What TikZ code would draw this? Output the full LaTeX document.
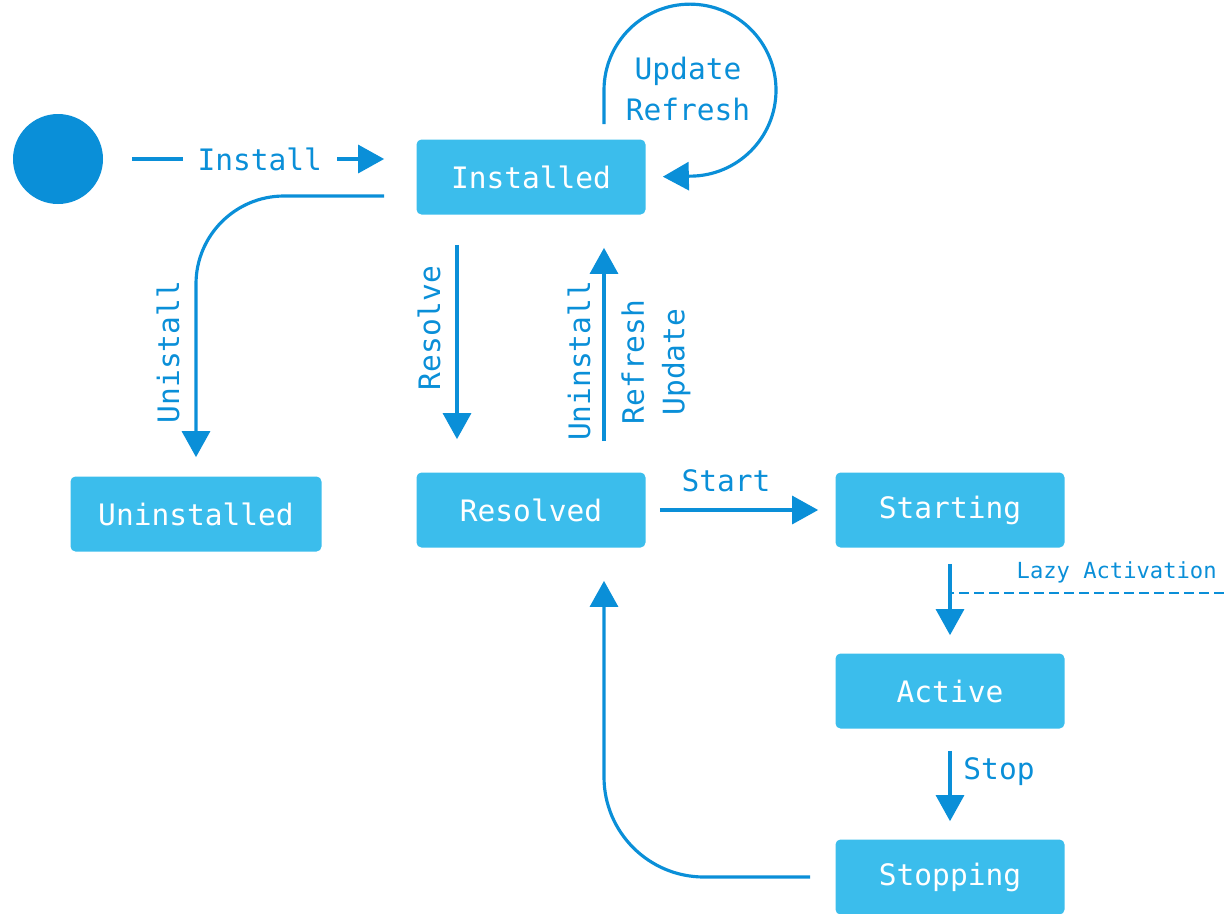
\documentclass[tikz,border=0pt]{standalone}
\usepackage{fontspec}
\setmonofont{DejaVu Sans Mono}
\usetikzlibrary{arrows.meta}

\definecolor{boxblue}{HTML}{3BBDEC}
\definecolor{lineblue}{HTML}{0A8FD8}

\tikzstyle{state} = [rectangle,rounded corners=0.1cm,fill=boxblue,text=white,minimum width=4.58cm,minimum height=1.5cm,font=\ttfamily\fontsize{16.8}{23}\selectfont]
\tikzstyle{lbl} = [text=lineblue,font=\ttfamily\fontsize{16.8}{23}\selectfont,align=center,inner sep=2pt]
\tikzstyle{trans} = [->,>={Triangle[length=0.52cm,width=0.56cm]},line width=1.8pt,draw=lineblue]

\begin{document}
\begin{tikzpicture}
	\useasboundingbox (0,0) rectangle (24.48,-18.26);
	\node[circle,fill=lineblue,minimum size=1.8cm,inner sep=0] (n0) at (1.16,-3.18) {};
	\node[state] (installed) at (10.62,-3.54) {Installed};
	\node[state,minimum width=5.02cm] (uninstalled) at (3.92,-10.28) {Uninstalled};
	\node[state] (resolved) at (10.62,-10.2) {Resolved};
	\node[state] (starting) at (19,-10.2) {Starting};
	\node[state] (active) at (19,-13.82) {Active};
	\node[state] (stopping) at (19,-17.54) {Stopping};
	
	\node[lbl,rotate=90] (l_unistall) at (3.36,-7.04) {Unistall};
	\node[lbl,rotate=90] (l_resolve) at (8.58,-6.56) {Resolve};
	\node[lbl,rotate=90] (l_uninstall) at (11.58,-7.22) {Uninstall};
	\node[lbl,rotate=90] (l_refresh) at (13.12,-7.24) {Refresh\\Update};
	\node[lbl] (l_update) at (13.76,-1.78) {Update\\Refresh};
	\node[lbl] (l_start) at (14.52,-9.62) {Start};
	\node[lbl] (l_stop) at (19.98,-15.44) {Stop};
	\node[lbl,anchor=east,font=\ttfamily\fontsize{12.6}{15}\selectfont] (l_lazy) at (24.41,-11.44) {Lazy Activation};
	\coordinate (lazy) at (24.48,-11.86);
	
	\draw[trans,shorten <=0.58cm,shorten >=0.64cm] (n0.east) -- (n0.east -| installed.west) node[lbl,midway,fill=white,inner xsep=0.3cm] (l_install) {Install};
	\draw[trans,shorten <=0.3cm,shorten >=0.34cm] ([xshift=1.46cm]installed.north) -- ++(0,0.98) arc[start angle=180,end angle=-90,radius=1.72cm] -- (installed.east);
	\draw[trans,rounded corners=1.76cm,shorten <=0.64cm,shorten >=0.38cm] ([yshift=-0.38cm]installed.west) -| (uninstalled.north);
	\draw[trans,shorten <=0.6cm,shorten >=0.66cm] ([xshift=-1.48cm]installed.south) -- ([xshift=-1.48cm]resolved.north);
	\draw[trans,shorten <=0.62cm,shorten >=0.66cm] ([xshift=1.46cm]resolved.north) -- ([xshift=1.46cm]installed.south);
	\draw[trans,shorten <=0.28cm,shorten >=0.34cm] (resolved.east) -- (starting.west);
	\draw[trans,shorten <=0.32cm,shorten >=0.36cm] (starting.south) -- (active.north);
	\draw[lineblue,line width=1.3pt,dash pattern=on 0.2cm off 0.1cm] (lazy) -- (lazy -| starting.south);
	\draw[trans,shorten <=0.44cm,shorten >=0.36cm] (active.south) -- (stopping.north);
	\draw[trans,rounded corners=2cm,shorten <=0.5cm,shorten >=0.66cm] (stopping.west) -| ([xshift=1.46cm]resolved.south);
\end{tikzpicture}
\end{document}
